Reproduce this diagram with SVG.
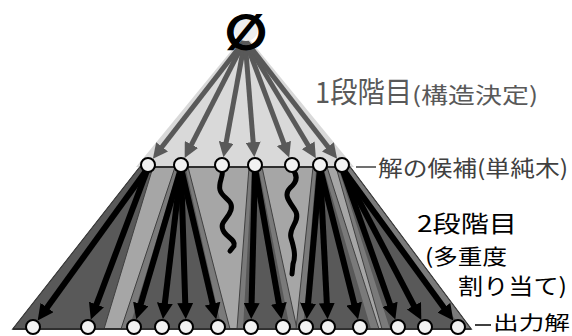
<svg xmlns="http://www.w3.org/2000/svg" width="572" height="336" viewBox="0 0 572 336">
<defs>
<style>
.node{fill:#f2f2f2;stroke:#000;stroke-width:2}
.garr{stroke:#595959;stroke-width:5;fill:none;marker-end:url(#gh)}
.barr{stroke:#000;stroke-width:6;fill:none;marker-end:url(#bh)}
.wave{stroke:#000;stroke-width:5;fill:none;stroke-linecap:round;stroke-linejoin:round}
.fo{fill:#7a7a7a;stroke:#404040;stroke-width:1}
.fi{fill:#595959}
.jp{font-family:"Noto Sans CJK JP","Noto Sans",sans-serif}
</style>
<marker id="gh" markerUnits="userSpaceOnUse" markerWidth="15" markerHeight="15" refX="6" refY="7.5" orient="auto">
<path d="M0,0 L15,7.5 L0,15 z" fill="#595959"/>
</marker>
<marker id="bh" markerUnits="userSpaceOnUse" markerWidth="16" markerHeight="16" refX="7" refY="8" orient="auto">
<path d="M0,0 L16,8 L0,16 z" fill="#000"/>
</marker>
</defs>
<rect width="572" height="336" fill="#fff"/>
<g id="regions">
<polygon points="245,34 136,167 354,167" fill="#d9d9d9"/>
<polygon points="140,167 350,167 471,329 13,329" fill="#a6a6a6" stroke="#262626" stroke-width="1.5"/>
<polygon points="140,167 153,167 104,329 13,329" fill="#595959" stroke="#404040" stroke-width="1"/>
<polygon class="fo" points="175,167 188,167 230,329 121,329"/>
<polygon class="fi" points="178,170 186,170 222,329 129,329"/>
<polygon class="fo" points="249,167 262,167 297,329 237,329"/>
<polygon class="fi" points="252,170 259,170 290,329 243,329"/>
<polygon class="fo" points="313,167 327,167 379,329 296,329"/>
<polygon class="fi" points="316,170 324,170 371,329 303,329"/>
<polygon class="fo" points="336,167 350,167 471,329 382,329"/>
<polygon class="fi" points="339,170 347,170 462,329 390,329"/>
<line x1="140" y1="167" x2="350" y2="167" stroke="#262626" stroke-width="1.5"/>
<line x1="13" y1="329" x2="471" y2="329" stroke="#262626" stroke-width="1.5"/>
</g>
<g id="connectors">
<line class="garr" x1="245" y1="40" x2="158.42" y2="151.57"/>
<line class="garr" x1="245" y1="40" x2="188.75" y2="149.87"/>
<line class="garr" x1="245" y1="40" x2="225.08" y2="148.28"/>
<line class="garr" x1="245" y1="40" x2="253.64" y2="148.06"/>
<line class="garr" x1="245" y1="40" x2="286.01" y2="149.09"/>
<line class="garr" x1="245" y1="40" x2="311.25" y2="150.42"/>
<line class="garr" x1="245" y1="40" x2="331.58" y2="151.57"/>
<line class="barr" x1="148" y1="168" x2="42.96" y2="313.22"/>
<line class="barr" x1="148" y1="168" x2="94" y2="311.09"/>
<line class="barr" x1="181" y1="168" x2="138.82" y2="310.7"/>
<line class="barr" x1="181" y1="168" x2="164.02" y2="310.12"/>
<line class="barr" x1="181" y1="168" x2="185.47" y2="310.01"/>
<line class="barr" x1="181" y1="168" x2="214.15" y2="310.44"/>
<line class="barr" x1="255" y1="168" x2="251.43" y2="310"/>
<line class="barr" x1="255" y1="168" x2="280.05" y2="310.26"/>
<line class="barr" x1="320" y1="168" x2="307.49" y2="310.07"/>
<line class="barr" x1="320" y1="168" x2="327.15" y2="310.02"/>
<line class="barr" x1="320" y1="168" x2="355.85" y2="310.51"/>
<line class="barr" x1="342" y1="168" x2="392.35" y2="310.97"/>
<line class="barr" x1="342" y1="168" x2="417.13" y2="311.93"/>
<line class="barr" x1="342" y1="168" x2="447.98" y2="313.27"/>
<path class="wave" d="M222,170 C224,176 218,182 220,190 C222,198 234,200 231,210 C228,220 218,222 224,232 C228,238 236,240 234,246 L230,251"/>
<path class="wave" d="M293,170 C298,176 297,182 290,188 C282,196 292,204 296,212 C300,222 288,228 291,238 C294,248 296,256 293,264 L292,274"/>
<line x1="356" y1="167" x2="376" y2="167" stroke="#404040" stroke-width="1.5"/>
<line x1="475" y1="325" x2="491" y2="325" stroke="#000" stroke-width="1.5"/>
</g>
<g id="root">
<circle cx="246" cy="29" r="12" fill="#eeeeee"/>
<text x="246" y="49" text-anchor="middle" font-family="DejaVu Sans, sans-serif" font-size="48" font-weight="bold" fill="#000" stroke="#000" stroke-width="1.5">∅</text>
</g>
<g id="m1"><circle class="node" cx="148" cy="165" r="7"/></g>
<g id="m2"><circle class="node" cx="181" cy="165" r="7"/></g>
<g id="m3"><circle class="node" cx="222" cy="165" r="7"/></g>
<g id="m4"><circle class="node" cx="255" cy="165" r="7"/></g>
<g id="m5"><circle class="node" cx="292" cy="165" r="7"/></g>
<g id="m6"><circle class="node" cx="320" cy="165" r="7"/></g>
<g id="m7"><circle class="node" cx="342" cy="165" r="7"/></g>
<g id="b1"><circle class="node" cx="33" cy="327" r="7"/></g>
<g id="b2"><circle class="node" cx="88" cy="327" r="7"/></g>
<g id="b3"><circle class="node" cx="134" cy="327" r="7"/></g>
<g id="b4"><circle class="node" cx="162" cy="327" r="7"/></g>
<g id="b5"><circle class="node" cx="186" cy="327" r="7"/></g>
<g id="b6"><circle class="node" cx="218" cy="327" r="7"/></g>
<g id="b7"><circle class="node" cx="251" cy="327" r="7"/></g>
<g id="b8"><circle class="node" cx="283" cy="327" r="7"/></g>
<g id="b9"><circle class="node" cx="306" cy="327" r="7"/></g>
<g id="b10"><circle class="node" cx="328" cy="327" r="7"/></g>
<g id="b11"><circle class="node" cx="360" cy="327" r="7"/></g>
<g id="b12"><circle class="node" cx="398" cy="327" r="7"/></g>
<g id="b13"><circle class="node" cx="425" cy="327" r="7"/></g>
<g id="b14"><circle class="node" cx="458" cy="327" r="7"/></g>
<g id="labels" class="jp">
<text x="315" y="103" font-size="29" fill="#595959" textLength="97" lengthAdjust="spacingAndGlyphs">1段階目</text>
<text x="412" y="103" font-size="22" fill="#595959" textLength="126" lengthAdjust="spacingAndGlyphs">(構造決定)</text>
<text x="378" y="176" font-size="22" fill="#404040" textLength="190" lengthAdjust="spacingAndGlyphs">解の候補(単純木)</text>
<text x="417" y="232" font-size="23" fill="#000" textLength="100" lengthAdjust="spacingAndGlyphs">2段階目</text>
<text x="425" y="264" font-size="21" fill="#000" textLength="82" lengthAdjust="spacingAndGlyphs">(多重度</text>
<text x="458" y="294" font-size="22" fill="#000" textLength="109" lengthAdjust="spacingAndGlyphs">割り当て)</text>
<text x="493" y="330" font-size="19" fill="#000" textLength="77" lengthAdjust="spacingAndGlyphs">出力解</text>
</g>
</svg>
